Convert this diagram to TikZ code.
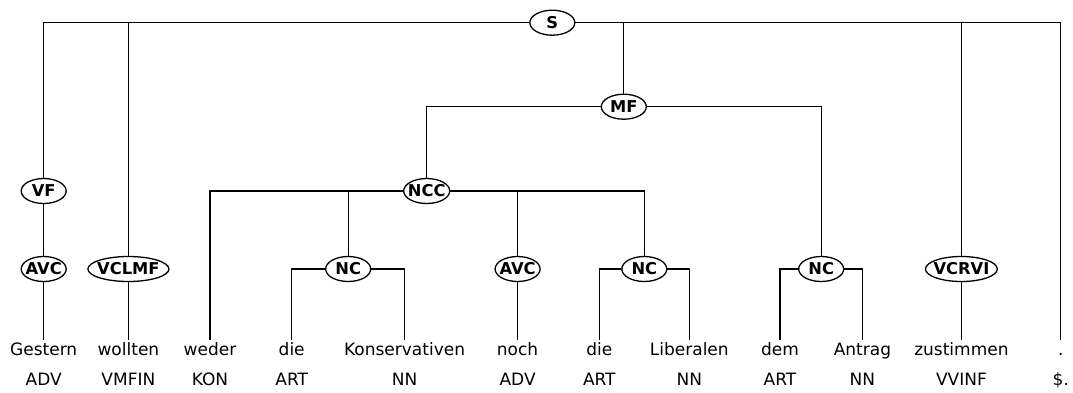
\documentclass[tikz,border=0pt]{standalone}
\usepackage{fontspec}
\setmainfont{DejaVu Sans}
\usetikzlibrary{shapes.geometric,backgrounds}
\tikzset{
  cat/.style={ellipse,draw,fill=white,line width=1.3pt,
    font=\bfseries\fontsize{16.3}{16.3}\selectfont,inner xsep=-2.5pt,inner ysep=0pt,
    text height=11.8pt,text depth=0pt,minimum width=45pt,minimum height=25pt}, % phrase label
  wrd/.style={font=\fontsize{17}{17}\selectfont,anchor=base,inner xsep=0pt,inner ysep=2pt,
    text height=13pt,text depth=4pt},
  br/.style={line width=1.3pt},
}

\begin{document}
\begin{tikzpicture}[x=1pt,y=-1pt]
  \useasboundingbox (0,0) rectangle (1073,392);
  % words and tags
  \foreach \x/\w/\t [count=\i] in {43.7/Gestern/ADV, 128.4/wollten/VMFIN, 210/weder/KON,
      291.7/die/ART, 404.6/Konservativen/NN, 517.6/noch/ADV, 599.3/die/ART,
      689.3/Liberalen/NN, 780/dem/ART, 862.4/Antrag/NN, 961.4/zustimmen/VVINF, 1060.8/./\$.}{
    \node[wrd] (w\i) at (\x,355) {\w};
    \node[wrd] (t\i) at (\x,385) {\t};}
  % phrases
  \node[cat] (s) at (552.3,22.7) {S};
  \node[cat] (mf) at (623.8,106.7) {MF};
  \node[cat] (vf) at (43.7,191) {VF};
  \node[cat] (ncc) at (426.7,191) {NCC};
  \node[cat] (avc1) at (43.7,269) {AVC};
  \node[cat] (vclmf) at (128.4,269) {VCLMF};
  \node[cat] (nc1) at (348.2,269) {NC};
  \node[cat] (avc2) at (517.6,269) {AVC};
  \node[cat] (nc2) at (644.3,269) {NC};
  \node[cat] (nc3) at (821.2,269) {NC};
  \node[cat] (vcrvi) at (961.4,269) {VCRVI};
  % branches
  \begin{scope}[on background layer]
    \draw[br] (w1.north) -- (avc1) -- (vf) |- (s) -| (w12.north);
    \draw[br] (w2.north) -- (vclmf) -- (vclmf |- s);
    \draw[br] (mf) -- (mf |- s);
    \draw[br] (w11.north) -- (vcrvi) -- (vcrvi |- s);
    \draw[br] (ncc) |- (mf) -| (nc3);
    \draw[br] (w3.north) |- (ncc) -| (nc2);
    \draw[br] (nc1) -- (nc1 |- ncc);
    \draw[br] (w6.north) -- (avc2) -- (avc2 |- ncc);
    \draw[br] (w4.north) |- (nc1) -| (w5.north);
    \draw[br] (w7.north) |- (nc2) -| (w8.north);
    \draw[br] (w9.north) |- (nc3) -| (w10.north);
  \end{scope}
\end{tikzpicture}
\end{document}
